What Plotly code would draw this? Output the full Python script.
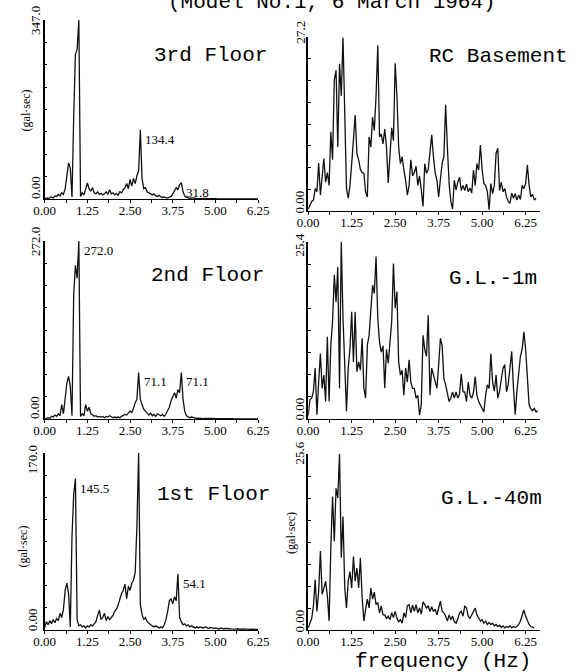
import plotly.graph_objects as go

W, H = 577, 672
FREQ_STEP = 0.05  # spectral sample spacing (Hz)

# ---- Fourier amplitude values (gal·sec), sampled every 0.05 Hz from 0 Hz ----
floor3_values = [
    0, 2, 1, 3, 4, 2, 6, 5, 9, 6,
    12, 9, 20, 45, 70, 60, 4, 160, 280, 290,
    347.1, 5, 12, 8, 18, 31, 20, 15, 22, 12,
    10, 14, 9, 11, 8, 10, 14, 9, 18, 10,
    12, 8, 11, 7, 14, 12, 18, 22, 30, 20,
    38, 25, 40, 30, 45, 55, 134.4, 40, 20, 22,
    14, 12, 9, 8, 10, 6, 5, 7, 4, 3,
    4, 2, 2, 3, 5, 10, 15, 22, 18, 28,
    31.8, 14, 6, 3, 2, 1, 2, 1, 1.5, 0.8,
    1, 0.5, 1.2, 0.8, 1, 0.5, 0.8, 1, 0.6, 0.4,
    0.8, 0.5, 0.6, 0.3, 0.5, 0.8, 0.4, 0.3, 0.5, 0.3,
    0.4, 0.2, 0.5, 0.3, 0.2, 0.4, 0.3, 0.2, 0.3, 0.2,
    0.3, 0.2, 0.4, 0.2, 0.3, 0.2,
]
floor2_values = [
    0, 1, 2, 1, 4, 3, 6, 4, 8, 5,
    22, 8, 30, 55, 65, 50, 5, 190, 235, 215,
    272.0, 4, 8, 5, 22, 12, 18, 8, 6, 4,
    5, 3, 4, 3, 4, 2, 4, 3, 5, 3,
    2, 3, 2, 3, 2, 4, 5, 7, 6, 9,
    12, 10, 16, 25, 30, 71.1, 30, 22, 15, 12,
    8, 6, 9, 5, 7, 4, 8, 6, 5, 7,
    4, 8, 12, 18, 28, 35, 40, 32, 45, 40,
    71.1, 30, 12, 5, 3, 2, 3, 2, 1.5, 1,
    1.2, 0.8, 1, 0.6, 0.8, 1, 0.5, 0.7, 0.5, 0.8,
    0.5, 0.6, 0.4, 0.5, 0.3, 0.6, 0.4, 0.3, 0.5, 0.3,
    0.4, 0.3, 0.2, 0.4, 0.3, 0.2, 0.3, 0.2, 0.4, 0.2,
    0.3, 0.2, 0.3, 0.2, 0.3, 0.2,
]
floor1_values = [
    2, 8, 5, 9, 6, 10, 7, 11, 9, 16,
    12, 20, 38, 45, 35, 3, 90, 130, 145.5, 10,
    4, 5, 3, 4, 2, 4, 3, 5, 4, 6,
    8, 14, 19, 10, 12, 16, 9, 13, 10, 12,
    14, 18, 20, 24, 30, 35, 38, 44, 30, 42,
    38, 45, 48, 55, 100, 170.2, 25, 15, 10, 12,
    8, 6, 5, 4, 3, 4, 3, 2, 3, 2,
    5, 10, 18, 28, 30, 25, 32, 28, 54.1, 12,
    8, 5, 6, 4, 5, 3, 4, 3, 2, 3,
    2, 3, 2.5, 2, 3, 2, 1.5, 2.5, 2, 1.5,
    2, 1.5, 1, 2, 1.5, 1, 1.5, 1, 1.2, 1,
    0.8, 1, 0.8, 1.2, 0.8, 0.6, 1, 0.8, 0.6, 0.8,
    0.6, 0.8, 0.5, 0.7, 0.5, 0.6,
]
rc_basement_values = [
    0.3, 0.8, 1.5, 1.7, 3.5, 3.0, 7.5, 2.5, 5.0, 8.2,
    4.5, 6.0, 4.0, 12.4, 8.0, 20.5, 22.0, 10.0, 23.0, 18.0,
    27.1, 12.6, 3.5, 2.0, 4.0, 7.4, 11.0, 15.0, 9.0, 8.0,
    6.5, 6.0, 5.9, 3.0, 2.2, 11.6, 10.0, 14.7, 12.6, 18.0,
    25.9, 11.6, 12.0, 10.5, 12.8, 10.0, 4.4, 9.0, 13.0, 11.0,
    23.1, 18.0, 10.0, 7.4, 8.5, 6.4, 4.8, 2.5, 4.0, 8.0,
    5.5, 6.0, 7.0, 4.0, 5.5, 3.3, 0.7, 7.4, 5.9, 6.5,
    9.0, 11.9, 8.5, 5.9, 4.8, 2.2, 5.0, 7.4, 8.5, 16.6,
    10.0, 4.3, 1.5, 0.3, 4.8, 3.3, 4.5, 5.3, 3.2, 4.0,
    3.2, 4.2, 3.0, 3.6, 2.8, 6.4, 4.0, 7.4, 6.4, 10.3,
    6.4, 4.3, 4.0, 3.0, 0.2, 4.3, 2.7, 4.0, 9.0, 9.8,
    3.2, 4.5, 3.0, 3.5, 2.2, 1.5, 1.2, 2.8, 2.0, 2.7,
    1.7, 2.5, 1.8, 4.0, 3.5, 4.3, 7.2, 4.0, 2.2, 2.6,
    1.7, 2.0,
]
gl1m_values = [
    0.5, 2.8, 3.0, 4.0, 7.3, 0.6, 5.3, 9.4, 4.4, 6.3,
    2.5, 11.8, 2.5, 10.6, 14.0, 20.7, 16.8, 21.8, 4.4, 25.4,
    14.4, 6.3, 1.1, 7.3, 10.1, 15.4, 8.2, 15.4, 6.8, 8.2,
    7.0, 11.6, 4.4, 3.0, 10.6, 12.0, 15.4, 19.2, 18.0, 23.3,
    14.4, 11.0, 9.6, 10.5, 4.4, 10.0, 8.0, 11.6, 14.0, 22.3,
    15.9, 18.3, 8.2, 6.3, 7.0, 3.4, 7.3, 5.3, 8.5, 5.3,
    4.4, 4.4, 3.0, 3.4, 0.6, 2.0, 12.0, 10.0, 9.0, 14.9,
    3.4, 7.3, 6.3, 5.3, 4.4, 7.8, 11.6, 10.5, 5.8, 4.9,
    3.4, 2.5, 3.0, 3.9, 3.0, 3.9, 3.0, 3.6, 6.5, 3.9,
    3.9, 2.5, 5.3, 3.4, 3.0, 3.8, 6.1, 3.4, 2.5, 2.0,
    1.5, 1.0, 3.4, 4.9, 4.4, 9.4, 5.3, 4.0, 6.3, 3.0,
    4.0, 5.8, 7.3, 7.8, 3.9, 5.0, 7.8, 9.7, 4.5, 0.6,
    4.0, 6.3, 9.0, 10.0, 12.5, 10.0, 5.3, 2.0, 1.5, 1.2,
    1.5, 1.0, 1.2,
]
gl40m_values = [
    0.3, 1.2, 1.7, 3.5, 7.3, 2.7, 5.6, 11.5, 5.2, 6.1,
    7.1, 5.0, 1.3, 12.0, 19.4, 12.9, 20.6, 19.2, 25.6, 10.5,
    16.5, 6.1, 3.2, 7.1, 8.5, 6.1, 10.7, 7.1, 9.0, 6.1,
    10.5, 4.7, 1.3, 3.0, 4.5, 3.2, 6.1, 4.5, 5.5, 3.7,
    4.0, 2.5, 3.5, 2.2, 2.2, 1.7, 2.0, 1.5, 2.5, 1.8,
    2.7, 1.7, 1.2, 1.5, 1.0, 2.5, 1.8, 3.5, 3.7, 2.5,
    3.6, 2.7, 3.7, 2.5, 3.2, 2.3, 4.1, 3.7, 3.2, 3.5,
    2.7, 3.4, 2.7, 3.0, 2.2, 3.2, 4.2, 2.7, 2.5, 2.0,
    1.3, 2.2, 1.5, 2.0, 1.2, 1.0, 1.6, 2.5, 2.7, 2.0,
    3.5, 3.2, 2.0, 1.7, 2.2, 2.7, 3.2, 2.2, 1.7, 1.3,
    1.5, 1.0, 1.3, 0.8, 1.1, 0.8, 1.0, 0.6, 0.8, 0.5,
    0.7, 0.4, 0.6, 0.3, 0.5, 0.4, 0.6, 0.3, 0.5, 0.4,
    0.5, 0.8, 1.3, 2.2, 2.9, 2.0, 1.3, 0.8, 0.5, 0.4,
    0.3,
]

panel_titles = ["3rd Floor", "2nd Floor", "1st Floor", "RC Basement", "G.L.-1m", "G.L.-40m"]
panel_values = [floor3_values, floor2_values, floor1_values,
                rc_basement_values, gl1m_values, gl40m_values]
y_max = [347.0, 272.0, 170.0, 27.2, 25.4, 25.6]
y_max_labels = ["347.0", "272.0", "170.0", "27.2", "25.4", "25.6"]
y_zero_label = "0.00"
x_tick_values = [0.0, 0.625, 1.25, 1.875, 2.5, 3.125, 3.75, 4.375, 5.0, 5.625, 6.25]
x_tick_labels = ["0.00", "", "1.25", "", "2.50", "", "3.75", "", "5.00", "", "6.25"]
# (panel index, frequency Hz, amplitude, label)
peak_labels = [
    (0, 1.00, 347.1, "347.1"), (0, 2.80, 134.4, "134.4"), (0, 4.00, 31.8, "31.8"),
    (1, 1.00, 272.0, "272.0"), (1, 2.75, 71.1, "71.1"), (1, 4.00, 71.1, "71.1"),
    (2, 0.90, 145.5, "145.5"), (2, 2.75, 170.2, "170.2"), (2, 3.90, 54.1, "54.1"),
]
title_text = "(Model No.1, 6 March 1964)"
x_title_text = "frequency (Hz)"
y_unit_text = "(gal·sec)"

# ---- layout geometry (pixels) ----
col_x = {"L": (35, 257, 6.25), "R": (309, 549.5, 6.65)}
panel_geom = [  # column, top px, bottom px
    ("L", 20, 199), ("L", 241, 419), ("L", 453, 630),
    ("R", 37, 211), ("R", 242, 419), ("R", 454, 630),
]
title_pos = [(147, 55), (143, 275), (150, 494), (432, 56), (453, 278), (445, 498)]
ymax_label_pos = [(25, 21), (25, 242), (22, 460), (300, 32), (300, 245), (299, 453)]
yzero_label_pos = [(25, 188), (25, 408), (22, 620), (299, 202), (300, 409), (299, 621)]

SERIF = "Liberation Serif"
MONO = "Liberation Mono"


def px_x(p):
    return p / W


def px_y(p):
    return 1 - p / H


fig = go.Figure()
annotations = []
layout_axes = {}

for i, (vals, ttl, ym) in enumerate(zip(panel_values, panel_titles, y_max)):
    col, top, bot = panel_geom[i]
    x0, x1, xr = col_x[col]
    n = i + 1
    xa = "x" if n == 1 else f"x{n}"
    ya = "y" if n == 1 else f"y{n}"
    freqs = [round(k * FREQ_STEP, 2) for k in range(len(vals))]
    fig.add_trace(go.Scatter(x=freqs, y=vals, mode="lines", xaxis=xa, yaxis=ya,
                             line=dict(color="#111111", width=1.3), showlegend=False,
                             hoverinfo="skip"))
    layout_axes[f"xaxis{'' if n == 1 else n}"] = dict(
        domain=[px_x(x0), px_x(x1)], range=[0, xr], anchor=ya,
        showline=True, linecolor="black", linewidth=1, showgrid=False, zeroline=False,
        tickmode="array", tickvals=x_tick_values, ticktext=x_tick_labels,
        ticks="outside", ticklen=3, tickcolor="black", tickwidth=1,
        ticklabelstandoff=-4,
        tickfont=dict(family=SERIF, size=13, color="black"),
    )
    layout_axes[f"yaxis{'' if n == 1 else n}"] = dict(
        domain=[px_y(bot), px_y(top)], range=[0, ym], anchor=xa,
        showline=True, linecolor="black", linewidth=1.6, showgrid=False, zeroline=False,
        tick0=0, dtick=ym / 8, ticks="inside", ticklen=3, tickcolor="black",
        showticklabels=False,
    )
    tx, ty = title_pos[i]
    annotations.append(dict(text=ttl, x=px_x(tx), y=px_y(ty), xref="paper", yref="paper",
                            xanchor="left", yanchor="middle", showarrow=False,
                            font=dict(family=MONO, size=21, color="black")))
    for (lx, ly), txt in ((ymax_label_pos[i], y_max_labels[i]), (yzero_label_pos[i], y_zero_label)):
        annotations.append(dict(text=txt, x=px_x(lx), y=px_y(ly), xref="paper", yref="paper",
                                xanchor="center", yanchor="middle", showarrow=False,
                                textangle=-90, font=dict(family=SERIF, size=13, color="black")))

for (pi, f, v, txt) in peak_labels:
    n = pi + 1
    annotations.append(dict(text=txt, x=f, y=v,
                            xref="x" if n == 1 else f"x{n}", yref="y" if n == 1 else f"y{n}",
                            xanchor="left", yanchor="top", xshift=3, showarrow=False,
                            font=dict(family=SERIF, size=13, color="black")))

for (ux, uy) in [(16, 110), (12, 547), (291, 533)]:
    annotations.append(dict(text=y_unit_text, x=px_x(ux), y=px_y(uy), xref="paper", yref="paper",
                            xanchor="center", yanchor="middle", showarrow=False, textangle=-90,
                            font=dict(family=SERIF, size=12, color="black")))

annotations.append(dict(text=title_text, x=px_x(334), y=px_y(3), xref="paper", yref="paper",
                        xanchor="center", yanchor="middle", showarrow=False,
                        font=dict(family=MONO, size=21, color="black")))
annotations.append(dict(text=x_title_text, x=px_x(449), y=px_y(661), xref="paper", yref="paper",
                        xanchor="center", yanchor="middle", showarrow=False,
                        font=dict(family=MONO, size=21, color="black")))

fig.update_layout(width=W, height=H, autosize=False,
                  margin=dict(l=0, r=0, t=0, b=0),
                  paper_bgcolor="white", plot_bgcolor="white",
                  annotations=annotations, **layout_axes)

fig.write_html("out.html",
               config={"displayModeBar": False},
               post_script="document.body.style.margin='0px';"
                           "document.body.style.overflow='hidden';")
